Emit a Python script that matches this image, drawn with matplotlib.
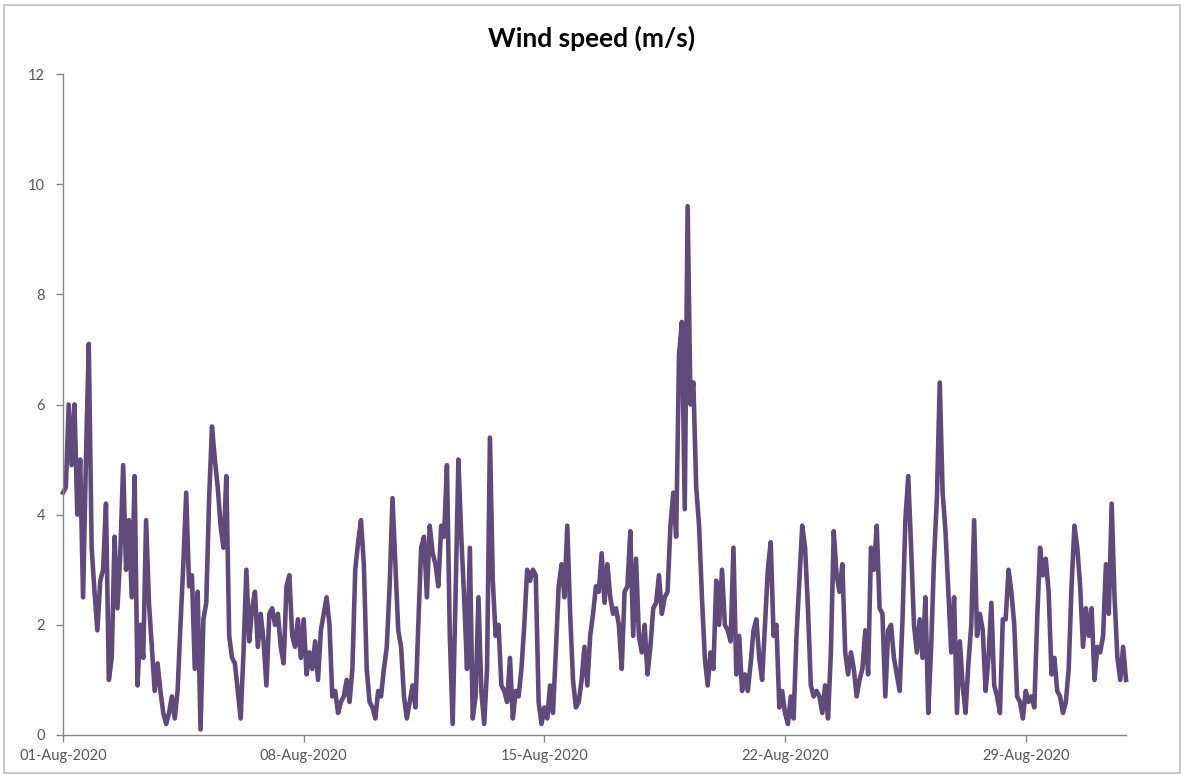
import numpy as np
import pandas as pd
import matplotlib.pyplot as plt
import matplotlib.dates as mdates
from matplotlib.patches import Rectangle

# 2-hourly wind speed (m/s), one list per week
week1 = [  # 01-07 Aug
    4.4, 4.5, 6.0, 4.9, 6.0, 4.0, 5.0, 2.5, 5.0, 7.1, 3.4, 2.6,
    1.9, 2.8, 3.0, 4.2, 1.0, 1.4, 3.6, 2.3, 3.3, 4.9, 3.0, 3.9,
    2.5, 4.7, 0.9, 2.0, 1.4, 3.9, 2.4, 1.6, 0.8, 1.3, 0.8, 0.4,
    0.2, 0.4, 0.7, 0.3, 0.8, 2.0, 3.1, 4.4, 2.7, 2.9, 1.2, 2.6,
    0.1, 2.1, 2.4, 4.3, 5.6, 5.0, 4.5, 3.8, 3.4, 4.7, 1.8, 1.4,
    1.3, 0.8, 0.3, 1.5, 3.0, 1.7, 2.3, 2.6, 1.6, 2.2, 1.7, 0.9,
    2.2, 2.3, 2.0, 2.2, 1.6, 1.3, 2.7, 2.9, 1.8, 1.6, 2.1, 1.4,
]
week2 = [  # 08-14 Aug
    2.1, 1.1, 1.5, 1.2, 1.7, 1.0, 1.9, 2.2, 2.5, 2.0, 0.7, 0.8,
    0.4, 0.6, 0.7, 1.0, 0.6, 1.2, 3.0, 3.5, 3.9, 3.1, 1.2, 0.6,
    0.5, 0.3, 0.8, 0.7, 1.2, 1.6, 2.7, 4.3, 3.1, 1.9, 1.6, 0.7,
    0.3, 0.6, 0.9, 0.5, 2.0, 3.4, 3.6, 2.5, 3.8, 3.3, 3.1, 2.7,
    3.8, 3.6, 4.9, 1.8, 0.2, 2.5, 5.0, 3.6, 2.5, 1.2, 3.4, 0.3,
    0.7, 2.5, 0.8, 0.2, 1.2, 5.4, 2.8, 1.8, 2.0, 0.9, 0.8, 0.6,
    1.4, 0.3, 0.8, 0.7, 1.2, 2.0, 3.0, 2.8, 3.0, 2.9, 0.6, 0.2,
]
week3 = [  # 15-21 Aug
    0.5, 0.3, 0.9, 0.4, 1.5, 2.7, 3.1, 2.5, 3.8, 2.2, 1.0, 0.5,
    0.6, 1.0, 1.6, 0.9, 1.8, 2.2, 2.7, 2.6, 3.3, 2.4, 3.1, 2.5,
    2.2, 2.3, 2.0, 1.2, 2.6, 2.7, 3.7, 1.8, 3.2, 1.8, 1.5, 2.0,
    1.1, 1.6, 2.3, 2.4, 2.9, 2.2, 2.5, 2.6, 3.8, 4.4, 3.6, 6.9,
    7.5, 4.1, 9.6, 6.0, 6.4, 4.5, 3.8, 2.5, 1.4, 0.9, 1.5, 1.2,
    2.8, 2.0, 3.0, 2.0, 1.9, 1.7, 3.4, 1.1, 1.8, 0.8, 1.1, 0.8,
    1.3, 1.9, 2.1, 1.4, 1.0, 2.0, 3.0, 3.5, 1.8, 2.0, 0.5, 0.8,
]
week4 = [  # 22-28 Aug
    0.4, 0.2, 0.7, 0.3, 1.8, 2.8, 3.8, 3.4, 2.3, 0.9, 0.7, 0.8,
    0.7, 0.4, 0.9, 0.3, 1.5, 3.7, 2.9, 2.6, 3.1, 1.5, 1.1, 1.5,
    1.2, 0.7, 1.0, 1.2, 1.9, 1.1, 3.4, 3.0, 3.8, 2.3, 2.2, 0.7,
    1.9, 2.0, 1.4, 1.1, 0.8, 2.1, 3.9, 4.7, 3.4, 2.0, 1.5, 2.1,
    1.4, 2.5, 0.4, 1.6, 3.2, 4.3, 6.4, 4.4, 3.7, 2.6, 1.5, 2.5,
    0.4, 1.7, 0.9, 0.4, 1.3, 2.0, 3.9, 1.8, 2.2, 1.9, 0.8, 1.4,
    2.4, 0.9, 0.7, 0.4, 2.1, 2.1, 3.0, 2.6, 2.0, 0.7, 0.6, 0.3,
]
week5 = [  # 29-31 Aug
    0.8, 0.6, 0.7, 0.5, 2.1, 3.4, 2.9, 3.2, 2.6, 1.1, 1.4, 0.8,
    0.7, 0.4, 0.6, 1.2, 2.7, 3.8, 3.4, 2.7, 1.6, 2.3, 1.8, 2.3,
    1.0, 1.6, 1.5, 1.8, 3.1, 2.2, 4.2, 2.5, 1.4, 1.0, 1.6, 1.0,
]

speed = np.array(week1 + week2 + week3 + week4 + week5)
times = pd.date_range("2020-08-01", periods=len(speed), freq="2h")
tick_dates = pd.to_datetime(["2020-08-01", "2020-08-08", "2020-08-15",
                             "2020-08-22", "2020-08-29"])

line_color = "#604A7B"
axis_color = "#868686"
label_color = "#595959"

fig = plt.figure(figsize=(11.84, 7.76), dpi=100)
ax = fig.add_axes([63 / 1184, 41 / 776, 1063 / 1184, 661 / 776])

ax.plot(times, speed, color=line_color, linewidth=3.3,
        solid_joinstyle="round", clip_on=False)

ax.set_ylim(0, 12)
ax.set_yticks(np.arange(0, 13, 2))
ax.set_xlim(times[0], times[-1])
ax.set_xticks(tick_dates)
ax.xaxis.set_major_formatter(mdates.DateFormatter("%d-%b-%Y"))

for side in ["top", "right"]:
    ax.spines[side].set_visible(False)
for side in ["left", "bottom"]:
    ax.spines[side].set_color(axis_color)
    ax.spines[side].set_linewidth(1.0)

ax.tick_params(axis="both", direction="out", length=5, width=1.0,
               color=axis_color, labelcolor=label_color, labelsize=10.5)
ax.tick_params(axis="y", pad=8)
ax.tick_params(axis="x", pad=5)
for lab in ax.get_xticklabels() + ax.get_yticklabels():
    lab.set_family("Lato")

fig.text(0.5, 1 - 38 / 776, "Wind speed (m/s)", ha="center", va="center",
         fontsize=19, fontweight="bold", family="Lato", color="black")

# chart area border
fig.patches.append(Rectangle((4 / 1184, 3 / 776), 1176 / 1184, 768 / 776,
                             transform=fig.transFigure, fill=False,
                             edgecolor="#BFBFBF", linewidth=1.2))

fig.savefig("out.png", dpi=100)
